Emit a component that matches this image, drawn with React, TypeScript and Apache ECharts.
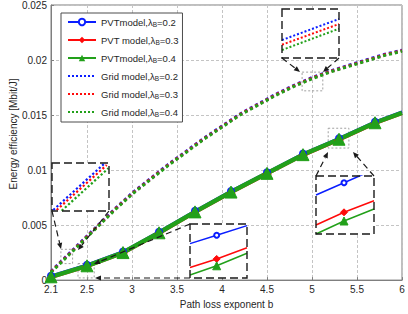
import React, { useEffect, useRef } from 'react';
import * as echarts from 'echarts';

// ---------- data ----------
const xTicks = [2.1, 2.5, 3, 3.5, 4, 4.5, 5, 5.5, 6];

const pvtX = [2.1, 2.5, 2.9, 3.3, 3.7, 4.1, 4.5, 4.9, 5.3, 5.7, 6.0];
const pvtBlue = [0.0004, 0.0014, 0.0026, 0.0044, 0.0063, 0.0081, 0.0098, 0.0115, 0.0129, 0.0144, 0.0153];
const pvtRed = [0.0002, 0.0012, 0.0024, 0.0042, 0.0061, 0.0079, 0.0096, 0.0113, 0.0127, 0.0142, 0.0151];
const pvtGreen = [0.0003, 0.0013, 0.0025, 0.0043, 0.0062, 0.0080, 0.0097, 0.0114, 0.0128, 0.0143, 0.0152];

const gridX = [2.1, 2.2, 2.4, 2.6, 2.8, 3.0, 3.2, 3.4, 3.6, 3.8, 4.0, 4.2, 4.4, 4.6, 4.8, 5.0, 5.2, 5.4, 5.6, 5.8, 6.0];
const gridBlue = [0.0008, 0.0016, 0.0032, 0.0048, 0.0064, 0.0079, 0.0092, 0.0105, 0.0117, 0.0129, 0.0140, 0.0151, 0.0160, 0.0169, 0.0177, 0.0184, 0.0190, 0.0195, 0.0200, 0.0205, 0.0209];
const gridRed = [0.00075, 0.00155, 0.00315, 0.00475, 0.00635, 0.00785, 0.00915, 0.01045, 0.01165, 0.01285, 0.01395, 0.01505, 0.01595, 0.01685, 0.01765, 0.01835, 0.01895, 0.01945, 0.01995, 0.02045, 0.02085];
const gridGreen = [0.0007, 0.0015, 0.0031, 0.0047, 0.0063, 0.0078, 0.0091, 0.0104, 0.0116, 0.0128, 0.0139, 0.0150, 0.0159, 0.0168, 0.0176, 0.0183, 0.0189, 0.0194, 0.0199, 0.0204, 0.0208];

// zoomed regions (data units): [x1, y1, x2, y2]
const zoomBoxes = [
  [4.89, 0.0189, 5.12, 0.0172],
  [5.18, 0.0138, 5.41, 0.0120],
  [2.40, 0.0015, 2.58, 0.0002],
  [2.21, 0.0028, 2.34, 0.0015],
];

// inset contents (inset-local units 0..1)
const insetSolidX_B = [0, 0.483, 1];
const insetB_blue = [0.672, 0.884, 1.11];
const insetB_red = [0.155, 0.374, 0.574];
const insetB_green = [0.0, 0.224, 0.431];

const insetSolidX_C = [0, 0.468, 1];
const insetC_blue = [0.636, 0.792, 0.97];
const insetC_red = [0.194, 0.353, 0.56];
const insetC_green = [0.057, 0.226, 0.458];

const insetA_x = [0, 1];
const insetA_blue = [0.367, 0.796];
const insetA_red = [0.271, 0.694];
const insetA_green = [0.163, 0.598];

const insetD_blueX = [0.023, 0.93];
const insetD_blue = [0.021, 1.0];
const insetD_redX = [0.082, 0.96];
const insetD_red = [0.021, 0.958];
const insetD_greenX = [0.17, 0.99];
const insetD_green = [0.006, 0.89];

const seriesNames = [
  'PVTmodel,λB=0.2',
  'PVT model,λB=0.3',
  'PVTmodel,λB=0.4',
  'Grid model,λB=0.2',
  'Grid model,λB=0.3',
  'Grid model,λB=0.4',
];

// ---------- layout / style ----------
const FONT = 'Liberation Sans, Arial, Helvetica, sans-serif';
const BLUE = '#0a1eff';
const RED = '#ff0a0a';
const GREEN = '#22a01a';
const INK = '#262626';

const insetBoxes: number[][] = [
  [282, 9, 57, 49],   // A (dotted, top)
  [316, 176, 58, 58], // B (solid, right)
  [190, 224, 57, 54], // C (solid, bottom)
  [52, 163, 57, 48],  // D (dotted, left)
];

const arrows: number[][] = [
  [282, 58, 300, 72],
  [339, 58, 323, 72],
  [316, 176, 328, 152],
  [374, 176, 353, 152],
  [190, 224, 94, 264],
  [190, 278, 95, 278],
  [52, 211, 61, 249],
  [109, 211, 78, 250],
];

function zip(xs: number[], ys: number[]) {
  return xs.map((x, i) => [x, ys[i]]);
}

function markedLast(xs: number[], ys: number[]) {
  return xs.map((x, i) => (i === xs.length - 1 ? { value: [x, ys[i]], symbol: 'none' } : [x, ys[i]]));
}

function markedMid(xs: number[], ys: number[]) {
  return xs.map((x, i) => (i === 1 ? [x, ys[i]] : { value: [x, ys[i]], symbol: 'none' }));
}

function arrowEls(a: number[]) {
  const [x1, y1, x2, y2] = a;
  const dx = x2 - x1, dy = y2 - y1;
  const L = Math.hypot(dx, dy);
  const ux = dx / L, uy = dy / L;
  const hl = 6, hw = 2.6;
  const bx = x2 - ux * hl, by = y2 - uy * hl;
  return [
    {
      type: 'line', z: 20, silent: true,
      shape: { x1, y1, x2: bx, y2: by },
      style: { stroke: '#1a1a1a', lineWidth: 1.2, lineDash: [6, 4] },
    },
    {
      type: 'polygon', z: 20, silent: true,
      shape: { points: [[x2, y2], [bx - uy * hw, by + ux * hw], [bx + uy * hw, by - ux * hw]] },
      style: { fill: '#1a1a1a' },
    },
  ];
}

export default function App() {
  const ref = useRef<HTMLDivElement>(null);

  useEffect(() => {
    if (!ref.current) return;
    const chart = echarts.init(ref.current, undefined, { renderer: 'svg' });

    const mainGrid = { left: 51, top: 5, width: 351, height: 279, show: true, borderColor: '#7f7f7f', borderWidth: 1 };
    const insetGrids = insetBoxes.map((b) => ({
      left: b[0], top: b[1], width: b[2], height: b[3],
      show: true, backgroundColor: '#ffffff', borderWidth: 0, z: 5,
    }));

    const insetAxisX = insetBoxes.map((_, i) => ({ type: 'value', gridIndex: i + 1, min: 0, max: 1, show: false }));
    const insetAxisY = insetBoxes.map((_, i) => ({ type: 'value', gridIndex: i + 1, min: 0, max: 1, show: false }));

    const solidMain = (name: string, ys: number[], color: string, width: number, symbol: string, size: number) => ({
      name, type: 'line', xAxisIndex: 0, yAxisIndex: 0,
      data: markedLast(pvtX, ys),
      symbol, symbolSize: size, showAllSymbol: true,
      lineStyle: { color, width },
      itemStyle: { color, borderColor: color },
      z: 2,
    });

    const dottedMain = (name: string, ys: number[], color: string) => ({
      name, type: 'line', xAxisIndex: 0, yAxisIndex: 0,
      data: zip(gridX, ys), symbol: 'none', smooth: false,
      lineStyle: { color, width: 3, type: 'dotted' },
      itemStyle: { color },
      z: 2,
    });

    const insetSolid = (idx: number, xs: number[], ys: number[], color: string, symbol: string, size: number) => ({
      name: 'inset' + idx + color, type: 'line', xAxisIndex: idx, yAxisIndex: idx,
      data: markedMid(xs, ys), symbol, symbolSize: size, showAllSymbol: true,
      lineStyle: { color, width: 1.5 }, itemStyle: { color, borderColor: color },
      z: 6, silent: true,
    });

    const insetDotted = (idx: number, xs: number[], ys: number[], color: string, width: number) => ({
      name: 'inset' + idx + color, type: 'line', xAxisIndex: idx, yAxisIndex: idx,
      data: zip(xs, ys), symbol: 'none',
      lineStyle: { color, width, type: 'dotted' }, itemStyle: { color },
      z: 6, silent: true,
    });

    const gridGreenSeries: any = dottedMain(seriesNames[5], gridGreen, GREEN);
    gridGreenSeries.markArea = {
      silent: true,
      itemStyle: { color: 'rgba(0,0,0,0)', borderColor: '#a0a0a0', borderWidth: 1, borderType: [2, 2] },
      data: zoomBoxes.map((b) => [{ coord: [b[0], b[1]] }, { coord: [b[2], b[3]] }]),
    };

    const graphics: any[] = [];
    insetBoxes.forEach((b) => {
      graphics.push({
        type: 'rect', z: 20, silent: true,
        shape: { x: b[0], y: b[1], width: b[2], height: b[3] },
        style: { fill: 'none', stroke: '#1a1a1a', lineWidth: 1.4, lineDash: [8, 4] },
      });
    });
    arrows.forEach((a) => graphics.push(...arrowEls(a)));
    graphics.push({
      type: 'text', x: 13, y: 134, rotation: Math.PI / 2, z: 20,
      style: { text: 'Energy efficiency [Mbit/J]', fontSize: 10, fontFamily: FONT, fill: INK, align: 'center', verticalAlign: 'middle' },
    });

    const hiddenSymbol = { color: 'rgba(0,0,0,0)', borderColor: 'rgba(0,0,0,0)', borderWidth: 0, opacity: 0 };
    const legendData = seriesNames.map((n, i) => (i >= 3 ? { name: n, itemStyle: hiddenSymbol } : { name: n }));

    const option: any = {
      animation: false,
      backgroundColor: '#ffffff',
      textStyle: { fontFamily: FONT },
      grid: [mainGrid, ...insetGrids],
      legend: {
        data: legendData,
        orient: 'vertical',
        left: 61, top: 13,
        padding: [4, 4, 4, 6],
        itemWidth: 28, itemHeight: 8, itemGap: 7, itemTextGap: 5,
        backgroundColor: '#ffffff',
        borderColor: '#4d4d4d', borderWidth: 1, borderRadius: 0,
        selectedMode: false,
        formatter: (name: string) => '{a|' + name.replace('λB', 'λ}{s|B}{a|') + '}',
        textStyle: {
          fontFamily: FONT, fontSize: 9.5, color: INK,
          rich: {
            a: { fontFamily: FONT, fontSize: 9.5, lineHeight: 12, color: INK },
            s: { fontFamily: FONT, fontSize: 6.5, lineHeight: 12, color: INK, verticalAlign: 'bottom' },
          },
        },
      },
      xAxis: [
        {
          type: 'value', gridIndex: 0, min: 2.1, max: 6,
          name: 'Path loss exponent b', nameLocation: 'middle', nameGap: 17,
          nameTextStyle: { fontSize: 10, color: INK, fontFamily: FONT },
          axisLine: { show: true, lineStyle: { color: '#7f7f7f' } },
          axisTick: { show: true, inside: true, length: 3, customValues: xTicks, lineStyle: { color: '#7f7f7f' } },
          axisLabel: { customValues: xTicks, fontSize: 10, color: INK, margin: 4, fontFamily: FONT },
          splitLine: { show: true, lineStyle: { color: '#c4c4c4', type: [3, 2], width: 1 } },
        },
        ...insetAxisX,
      ],
      yAxis: [
        {
          type: 'value', gridIndex: 0, min: 0, max: 0.025, interval: 0.005,
          axisLine: { show: true, lineStyle: { color: '#7f7f7f' } },
          axisTick: { show: true, inside: true, length: 3, lineStyle: { color: '#7f7f7f' } },
          axisLabel: { fontSize: 10, color: INK, margin: 4, fontFamily: FONT, formatter: (v: number) => String(+v.toFixed(3)) },
          splitLine: { show: true, lineStyle: { color: '#c4c4c4', type: [3, 2], width: 1 } },
        },
        ...insetAxisY,
      ],
      series: [
        solidMain(seriesNames[0], pvtBlue, BLUE, 2.5, 'emptyCircle', 6),
        solidMain(seriesNames[1], pvtRed, RED, 2.5, 'diamond', 8),
        solidMain(seriesNames[2], pvtGreen, GREEN, 4.5, 'triangle', 12),
        dottedMain(seriesNames[3], gridBlue, BLUE),
        dottedMain(seriesNames[4], gridRed, RED),
        gridGreenSeries,
        // inset A (dotted)
        insetDotted(1, insetA_x, insetA_blue, BLUE, 2),
        insetDotted(1, insetA_x, insetA_red, RED, 2),
        insetDotted(1, insetA_x, insetA_green, GREEN, 2),
        // inset B (solid)
        insetSolid(2, insetSolidX_B, insetB_blue, BLUE, 'emptyCircle', 5),
        insetSolid(2, insetSolidX_B, insetB_red, RED, 'diamond', 7),
        insetSolid(2, insetSolidX_B, insetB_green, GREEN, 'triangle', 8),
        // inset C (solid)
        insetSolid(3, insetSolidX_C, insetC_blue, BLUE, 'emptyCircle', 5),
        insetSolid(3, insetSolidX_C, insetC_red, RED, 'diamond', 7),
        insetSolid(3, insetSolidX_C, insetC_green, GREEN, 'triangle', 8),
        // inset D (dotted)
        insetDotted(4, insetD_blueX, insetD_blue, BLUE, 2.2),
        insetDotted(4, insetD_redX, insetD_red, RED, 2.2),
        insetDotted(4, insetD_greenX, insetD_green, GREEN, 2.2),
      ],
      graphic: { elements: graphics },
    };

    chart.setOption(option);
    return () => chart.dispose();
  }, []);

  return <div ref={ref} style={{ position: 'fixed', left: 0, top: 0, width: 408, height: 314 }} />;
}
